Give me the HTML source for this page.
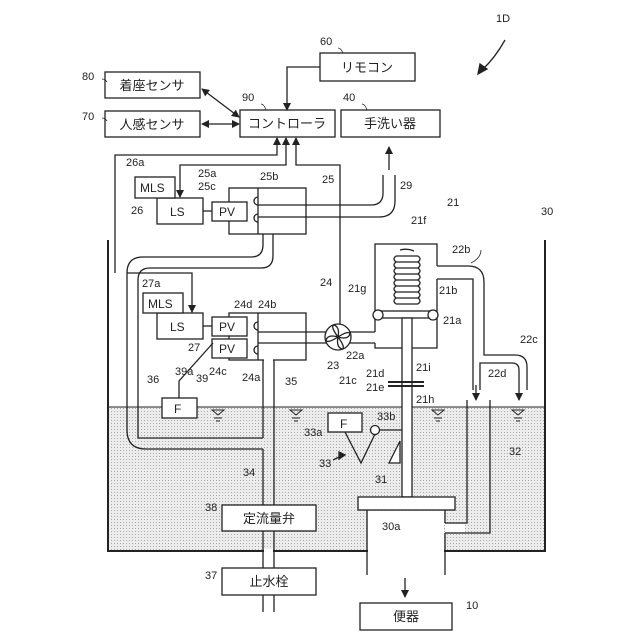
<!DOCTYPE html>
<html><head><meta charset="utf-8"><style>
html,body{margin:0;padding:0;background:#fff}
svg{display:block}
text{font-family:"Liberation Sans","Noto Sans CJK JP",sans-serif;fill:#222}
.l{font-size:11px}
.j{font-size:13px}
</style></head><body>
<svg width="640" height="640" viewBox="0 0 640 640" xmlns="http://www.w3.org/2000/svg">
<defs>
<pattern id="dots" width="3" height="3" patternUnits="userSpaceOnUse">
<rect width="3" height="3" fill="#ececec"/><rect width="1" height="1" fill="#aaa"/>
</pattern>
<marker id="ah" markerWidth="8" markerHeight="8" refX="7" refY="4" orient="auto" markerUnits="userSpaceOnUse">
<path d="M0,0 L8,4 L0,8 z" fill="#222"/></marker>
<marker id="as" markerWidth="8" markerHeight="8" refX="1" refY="4" orient="auto" markerUnits="userSpaceOnUse">
<path d="M8,0 L0,4 L8,8 z" fill="#222"/></marker>
</defs>
<g stroke="#222" stroke-width="1.3" fill="none">
<rect x="108" y="407" width="437" height="144" fill="url(#dots)" stroke="none"/>
<line x1="108" y1="407" x2="545" y2="407" stroke-width="1"/>
<polyline points="108,240 108,551 545,551 545,240" stroke-width="2"/>
<rect x="320" y="53" width="95" height="28" fill="#fff"/>
<rect x="105" y="72" width="95" height="26" fill="#fff"/>
<rect x="105" y="111" width="95" height="26" fill="#fff"/>
<rect x="240" y="110" width="95" height="27" fill="#fff"/>
<rect x="341" y="110" width="99" height="27" fill="#fff"/>
<polyline points="320,67 287,67 287,110" marker-end="url(#ah)"/>
<line x1="202" y1="89" x2="239" y2="117" marker-start="url(#as)" marker-end="url(#ah)"/>
<line x1="202" y1="124" x2="239" y2="124" marker-start="url(#as)" marker-end="url(#ah)"/>
<polyline points="115,273 115,155 277,155 277,138" marker-end="url(#ah)"/>
<polyline points="286,138 286,165 180,165 180,197" marker-start="url(#as)" marker-end="url(#ah)"/>
<polyline points="340,326 340,165 296,165 296,138" marker-end="url(#ah)"/>
<polyline points="127,273 192,273 192,312" marker-end="url(#ah)"/>
<path d="M505,40 Q495,58 482,70" />
<path d="M478,74 L480,64 L487,69 z" fill="#222"/>
<line x1="389" y1="170" x2="389" y2="147" marker-end="url(#ah)"/>
<rect x="229" y="188" width="77" height="46" fill="#fff"/>
<line x1="258" y1="188" x2="258" y2="234"/>
<path d="M258,197 a4,4 0 0 0 0,8 M258,214 a4,4 0 0 0 0,8"/>
<rect x="212" y="202" width="35" height="19" fill="#fff"/>
<rect x="157" y="198" width="46" height="26" fill="#fff"/>
<rect x="135" y="177" width="40" height="21" fill="#fff"/>
<line x1="203" y1="211" x2="212" y2="211"/>
<path d="M258,205 H371 Q383,205 383,193 V175"/>
<path d="M258,217 H379 Q395,217 395,201 V175"/>
<path d="M263,234 V245 Q263,257 251,257 H143 Q127,257 127,273 V430 Q127,449 146,449 H263" fill="none"/>
<path d="M273,234 V256 Q273,268 261,268 H150 Q138,268 138,280 V438 H263"/>
<rect x="264" y="235" width="8" height="2" fill="#fff" stroke="none"/>
<line x1="263" y1="360" x2="263" y2="438"/>
<line x1="263" y1="449" x2="263" y2="612"/>
<line x1="274" y1="360" x2="274" y2="612"/>
<rect x="229" y="313" width="77" height="47" fill="#fff"/>
<rect x="264" y="359" width="9" height="3" fill="#fff" stroke="none"/>
<line x1="258" y1="313" x2="258" y2="360"/>
<path d="M258,322 a4,4 0 0 0 0,8 M258,346 a4,4 0 0 0 0,8"/>
<rect x="212" y="317" width="35" height="19" fill="#fff"/>
<rect x="212" y="339" width="35" height="19" fill="#fff"/>
<rect x="157" y="313" width="46" height="26" fill="#fff"/>
<rect x="143" y="293" width="40" height="20" fill="#fff"/>
<line x1="203" y1="326" x2="212" y2="326"/>
<polyline points="179,398 179,381 213,343"/>
<rect x="162" y="398" width="35" height="20" fill="#fff"/>
<line x1="258" y1="332" x2="375" y2="332"/>
<line x1="258" y1="343" x2="375" y2="343"/>
<circle cx="338" cy="337" r="13" fill="#fff"/>
<path d="M338,337 Q330,326 334,325 Q340,327 338,337 Q349,330 350,334 Q348,340 338,337 Q346,348 342,349 Q336,347 338,337 Q327,344 326,340 Q328,334 338,337" />
<polyline points="437,266 437,244 375,244 375,332"/>
<polyline points="375,343 375,348 437,348 437,279"/>
<path d="M437,266 H468 Q484,266 484,282 V355 H515 Q527,355 527,367 V390"/>
<path d="M437,279 H473 V390"/>
<path d="M480,390 V363 H512 Q519,363 519,370 V385"/>
<line x1="476" y1="385" x2="476" y2="400" marker-end="url(#ah)"/>
<line x1="519" y1="385" x2="519" y2="400" marker-end="url(#ah)"/>
<path d="M400,250 Q407,248 414,251 M396,256 h22 M396,262 h22 M396,268 h22 M396,274 h22 M396,280 h22 M396,286 h22 M396,292 h22 M396,298 h22 M396,304 h22" />
<path d="M396,256 q-4,3 0,6 q-4,3 0,6 q-4,3 0,6 q-4,3 0,6 q-4,3 0,6 q-4,3 0,6 q-4,3 0,6 q-4,3 0,6 M418,256 q4,3 0,6 q4,3 0,6 q4,3 0,6 q4,3 0,6 q4,3 0,6 q4,3 0,6 q4,3 0,6 q4,3 0,6"/>
<rect x="378" y="311" width="55" height="7" fill="#fff"/>
<circle cx="378" cy="315" r="5" fill="#fff"/>
<circle cx="433" cy="315" r="5" fill="#fff"/>
<rect x="402" y="318" width="10" height="179" fill="#fff"/>
<line x1="388" y1="382" x2="424" y2="382" stroke-width="2"/>
<line x1="388" y1="386" x2="424" y2="386" stroke-width="2"/>
<polyline points="467,400 467,523 445,523"/>
<polyline points="490,400 490,533 445,533"/>
<rect x="445" y="524" width="20" height="8" fill="#fff" stroke="none"/>
<line x1="445" y1="510" x2="445" y2="523"/>
<rect x="358" y="497" width="97" height="13" fill="#fff"/>
<rect x="368" y="511" width="76" height="45" fill="#fff" stroke="none"/>
<line x1="367" y1="510" x2="367" y2="575"/>
<line x1="445" y1="533" x2="445" y2="575"/>
<line x1="109" y1="551" x2="544" y2="551" stroke-width="2"/>
<rect x="368" y="549" width="76" height="5" fill="#fff" stroke="none"/>
<rect x="264" y="549" width="9" height="5" fill="#fff" stroke="none"/>
<rect x="328" y="413" width="34" height="19" fill="#fff"/>
<polyline points="345,432 361,463 375,434"/>
<circle cx="375" cy="430" r="4.5" fill="#fff"/>
<line x1="380" y1="430" x2="402" y2="430"/>
<polygon points="389,463 400,441 400,463" fill="#fff"/>
<path d="M333,460 L343,455 M339,452 L345,455 L339,459 z" fill="#222"/>
<rect x="222" y="505" width="94" height="26" fill="#fff"/>
<rect x="222" y="568" width="94" height="27" fill="#fff"/>
<rect x="360" y="603" width="92" height="27" fill="#fff"/>
<line x1="405" y1="578" x2="405" y2="597" marker-end="url(#ah)"/>
<g stroke-width="1">
<path d="M212,410 h12 l-6,5 z M214,418 h8 M216,421 h4"/>
<path d="M290,410 h12 l-6,5 z M292,418 h8 M294,421 h4"/>
<path d="M432,410 h12 l-6,5 z M434,418 h8 M436,421 h4"/>
<path d="M512,410 h12 l-6,5 z M514,418 h8 M516,421 h4"/>
</g>
<g stroke-width="0.8">
<path d="M338,48 q3,0 5,5 M102,79 q3,0 5,3 M102,118 q3,0 5,3 M261,104 q3,0 5,6 M362,104 q3,0 5,6"/>
<path d="M481,250 q0,8 -10,13"/>
</g>
</g>
<text class="j" x="367" y="72" text-anchor="middle">リモコン</text>
<text class="j" x="152" y="90" text-anchor="middle">着座センサ</text>
<text class="j" x="152" y="129" text-anchor="middle">人感センサ</text>
<text class="j" x="287" y="128" text-anchor="middle">コントローラ</text>
<text class="j" x="390" y="128" text-anchor="middle">手洗い器</text>
<text class="j" x="269" y="523" text-anchor="middle">定流量弁</text>
<text class="j" x="269" y="586" text-anchor="middle">止水栓</text>
<text class="j" x="406" y="621" text-anchor="middle">便器</text>
<g font-size="12">
<text x="140" y="192">MLS</text><text x="170" y="216">LS</text><text x="219" y="216">PV</text>
<text x="148" y="308">MLS</text><text x="170" y="331">LS</text><text x="219" y="331">PV</text><text x="219" y="353">PV</text>
<text x="174" y="413">F</text><text x="340" y="428">F</text>
</g>
<g class="l">
<text x="496" y="22">1D</text><text x="320" y="45">60</text><text x="82" y="80">80</text><text x="82" y="120">70</text>
<text x="242" y="101">90</text><text x="343" y="101">40</text>
<text x="126" y="166">26a</text><text x="131" y="214">26</text><text x="198" y="177">25a</text><text x="198" y="190">25c</text>
<text x="260" y="180">25b</text><text x="322" y="183">25</text><text x="400" y="189">29</text>
<text x="142" y="287">27a</text><text x="234" y="308">24d</text><text x="258" y="308">24b</text><text x="320" y="286">24</text>
<text x="188" y="351">27</text><text x="175" y="375">39a</text><text x="196" y="382">39</text><text x="209" y="375">24c</text><text x="242" y="381">24a</text>
<text x="147" y="383">36</text><text x="285" y="385">35</text><text x="243" y="476">34</text><text x="205" y="511">38</text><text x="205" y="579">37</text>
<text x="466" y="609">10</text><text x="382" y="530">30a</text><text x="375" y="483">31</text>
<text x="304" y="436">33a</text><text x="319" y="467">33</text><text x="377" y="420">33b</text><text x="509" y="455">32</text>
<text x="447" y="206">21</text><text x="411" y="224">21f</text><text x="452" y="253">22b</text><text x="541" y="215">30</text>
<text x="348" y="292">21g</text><text x="439" y="294">21b</text><text x="443" y="324">21a</text>
<text x="346" y="359">22a</text><text x="327" y="369">23</text><text x="416" y="371">21i</text>
<text x="366" y="377">21d</text><text x="339" y="384">21c</text><text x="366" y="391">21e</text><text x="416" y="403">21h</text>
<text x="520" y="343">22c</text><text x="488" y="377">22d</text>
</g>
</svg>
</body></html>
